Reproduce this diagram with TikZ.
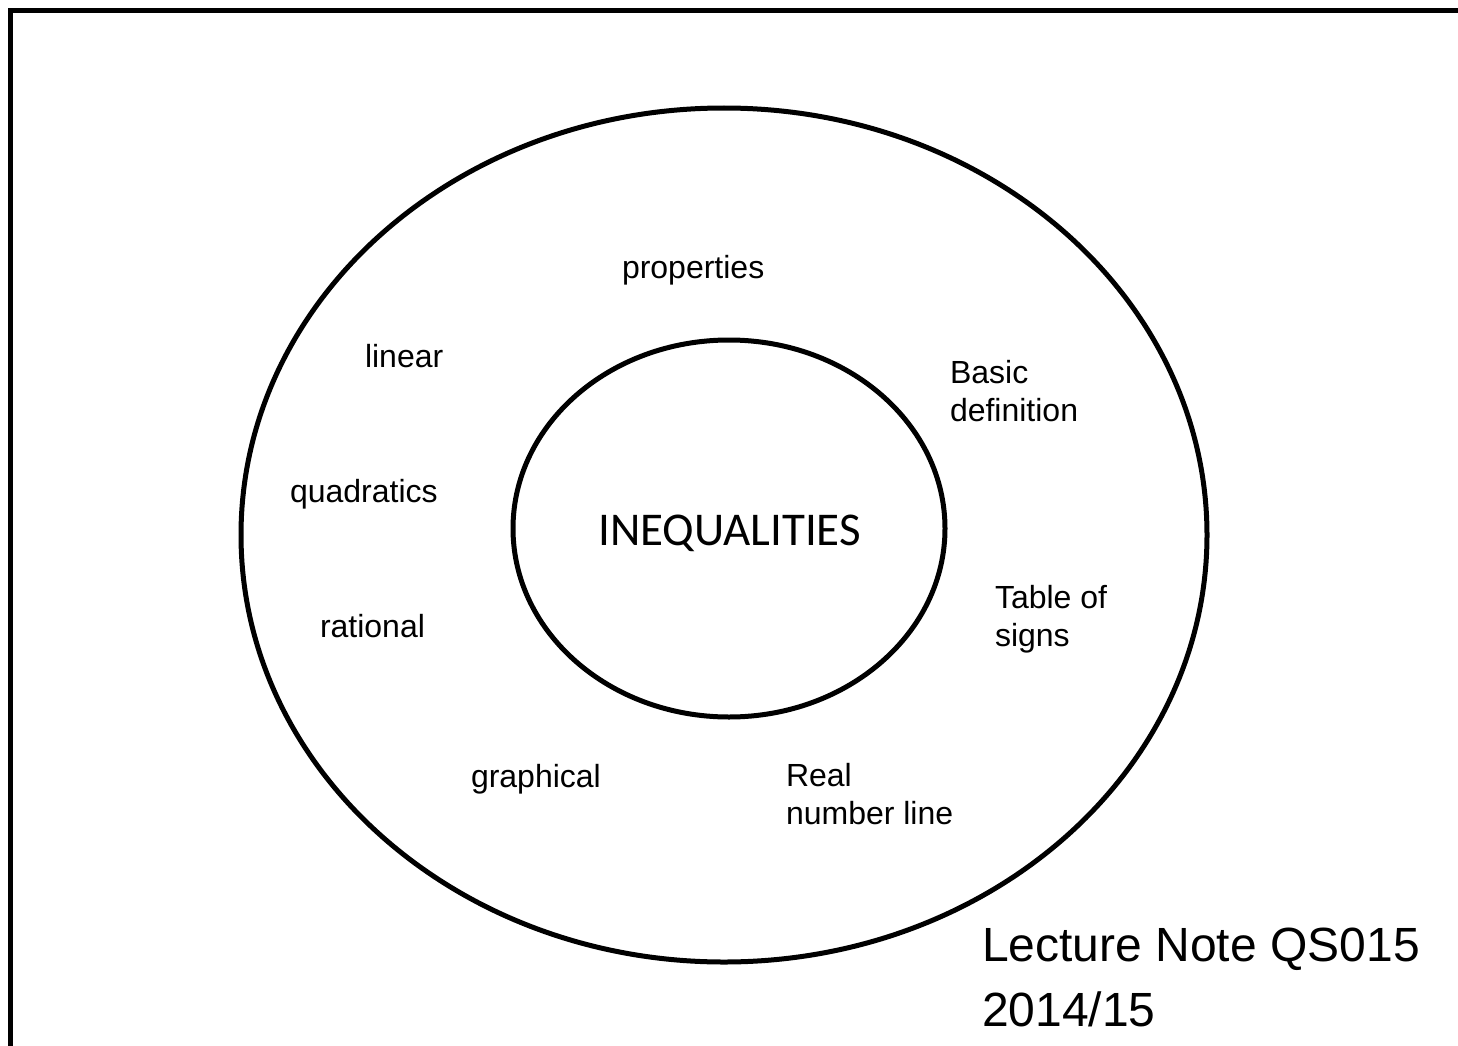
\documentclass[tikz,border=0pt]{standalone}
\usepackage{fontspec}
\setmainfont{Liberation Sans}
\newfontfamily\calfont{Carlito}
\begin{document}
\begin{tikzpicture}[x=1pt,y=-1pt,
  lbl/.style={anchor=base west,inner sep=0pt,outer sep=0pt,align=left,font=\fontsize{32}{38}\selectfont},
  ring/.style={draw=black,line width=5pt}]
\useasboundingbox (0,0) rectangle (1458,1046);
\fill[white] (0,0) rectangle (1458,1046);
\draw[line width=5pt] (10.5,1080) -- (10.5,10.5) -- (1480,10.5);
\draw[ring] (724,535) ellipse [x radius=483, y radius=427];
\draw[ring] (729,528.5) ellipse [x radius=216, y radius=188.5];
\node[lbl] (prop) at (622,278) {properties};
\node[lbl] (lin) at (365,367) {linear};
\node[lbl] (basic) at (950,421) {Basic\\definition};
\node[lbl] (quad) at (290,502) {quadratics};
\node[lbl] (rat) at (320,637) {rational};
\node[lbl] (tab) at (995,646) {Table of\\signs};
\node[lbl] (graph) at (471,787) {graphical};
\node[lbl] (real) at (786,824) {Real\\number line};
\node[anchor=base west,inner sep=0pt,font=\calfont\fontsize{47}{56}\selectfont] (ineq) at (598,545) {INEQUALITIES};
\node[anchor=base west,inner sep=0pt,align=left,font=\fontsize{48}{65}\selectfont] (note) at (982,1026) {Lecture Note QS015\\2014/15};
\end{tikzpicture}
\end{document}
